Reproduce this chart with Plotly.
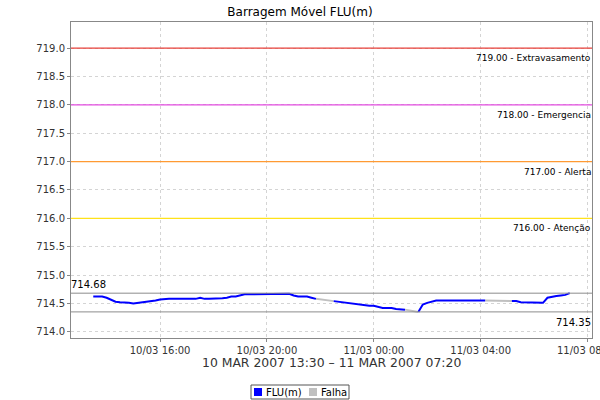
import pandas as pd
import plotly.graph_objects as go

# ---- data ----
start_time = "2007-03-10 13:30"
step_minutes = 10
flu_values = [
    714.62, 714.62, 714.62, 714.60, 714.57, 714.53, 714.52, 714.52, 714.51, 714.50,  # 13:30-15:00
    714.51, 714.52, 714.52, 714.53, 714.55, 714.57, 714.58, 714.58, 714.58, 714.58,  # 15:10-16:40
    714.58, 714.58, 714.58, 714.58, 714.60, 714.58, 714.58, 714.58, 714.58, 714.59,  # 16:50-18:20
    714.60, 714.62, 714.62, 714.64, 714.66, 714.66, 714.66, 714.66, 714.66, 714.66,  # 18:30-20:00
    714.67, 714.67, 714.67, 714.67, 714.67, 714.64, 714.62, 714.62, 714.62, 714.60,  # 20:10-21:40
    714.58, None, None, None, 714.54, 714.53, 714.51, 714.50, 714.49, 714.48,        # 21:50-23:20
    714.47, 714.47, 714.46, 714.46, 714.44, 714.42, 714.42, 714.42, 714.40, 714.40,  # 23:30-01:00
    714.39, None, None, 714.35, 714.48, 714.51, 714.53, 714.55, 714.55, 714.55,      # 01:10-02:40
    714.55, 714.55, 714.55, 714.55, 714.55, 714.55, 714.55, 714.55, 714.55, None,    # 02:50-04:20
    None, None, None, None, 714.54, 714.54, 714.52, 714.52, 714.51, 714.51,          # 04:30-06:00
    714.51, 714.51, 714.60, 714.62, 714.63, 714.64, 714.65, 714.68,                  # 06:10-07:20
]
threshold_values = [719.0, 718.0, 717.0, 716.0]
threshold_labels = ["719.00 - Extravasamento", "718.00 - Emergencia", "717.00 - Alerta", "716.00 - Atenção"]
threshold_colors = ["#e8403a", "#e34ce0", "#ff9a33", "#ffe21a"]
max_value = 714.68
min_value = 714.35
title_text = "Barragem Móvel FLU(m)"
subtitle_text = "10 MAR 2007 13:30 – 11 MAR 2007 07:20"
series_names = ["FLU(m)", "Falha"]
series_colors = ["#0000ff", "#c0c0c0"]
last_tick = "2007-03-11 08:00"

times = pd.date_range(start_time, periods=len(flu_values), freq=f"{step_minutes}min")

# failure segments: connect last valid point before each gap to first valid after
fail_x, fail_y = [], []
i = 0
n = len(flu_values)
while i < n:
    if flu_values[i] is None:
        j = i
        while j < n and flu_values[j] is None:
            j += 1
        if i > 0 and j < n:
            fail_x += [times[i - 1], times[j], None]
            fail_y += [flu_values[i - 1], flu_values[j], None]
        i = j
    else:
        i += 1

# ---- layout geometry (pixels) ----
W, H = 600, 400
ML, MR, MT, MB = 71, 8, 22, 62
PW, PH = W - ML - MR, H - MT - MB


def px(x):  # pixel x -> paper x
    return (x - ML) / PW


def py(y):  # pixel y -> paper y
    return (H - MB - y) / PH


FONT = "DejaVu Sans"
fig = go.Figure()

fig.add_trace(go.Scatter(x=fail_x, y=fail_y, mode="lines",
                         line=dict(color=series_colors[1], width=2),
                         showlegend=False, hoverinfo="skip"))
fig.add_trace(go.Scatter(x=times, y=flu_values, mode="lines",
                         line=dict(color=series_colors[0], width=2),
                         connectgaps=False, showlegend=False))

for val, lab, col in zip(threshold_values, threshold_labels, threshold_colors):
    fig.add_shape(type="line", xref="paper", x0=0, x1=1, y0=val, y1=val,
                  line=dict(color=col, width=1.2))
    fig.add_annotation(xref="paper", x=1, y=val, xanchor="right", yanchor="top",
                       xshift=1, yshift=-3, text=lab, showarrow=False,
                       font=dict(family=FONT, size=9, color="#000"))

for val in (max_value, min_value):
    fig.add_shape(type="line", xref="paper", x0=0, x1=1, y0=val, y1=val,
                  line=dict(color="#8c8c8c", width=1))
fig.add_annotation(xref="paper", x=0, y=max_value, xanchor="left", yanchor="bottom",
                   xshift=-2, yshift=1, text=f"{max_value:.2f}", showarrow=False,
                   font=dict(family=FONT, size=10, color="#000"))
fig.add_annotation(xref="paper", x=1, y=min_value, xanchor="right", yanchor="top",
                   xshift=1, yshift=-3, text=f"{min_value:.2f}", showarrow=False,
                   font=dict(family=FONT, size=10, color="#000"))

fig.add_annotation(xref="paper", yref="paper", x=0.5, y=py(362), xanchor="center",
                   yanchor="middle", text=subtitle_text, showarrow=False,
                   font=dict(family=FONT, size=12.4, color="#333"))

# last tick label, clipped by the page edge like in the original
fig.add_annotation(xref="x", yref="paper", x=last_tick, y=py(350), xanchor="center",
                   yanchor="middle", text=pd.Timestamp(last_tick).strftime("%d/%m %H:%M"),
                   showarrow=False, font=dict(family=FONT, size=10, color="#333"))

# ---- manual legend (square swatches in a bordered box) ----
fig.add_shape(type="rect", xref="paper", yref="paper",
              x0=px(251), x1=px(349), y0=py(399), y1=py(385),
              line=dict(color="#555", width=1), fillcolor="white")
leg_sq_x = [254, 309]
for name, col, sx in zip(series_names, series_colors, leg_sq_x):
    fig.add_shape(type="rect", xref="paper", yref="paper",
                  x0=px(sx), x1=px(sx + 8), y0=py(396), y1=py(388),
                  line=dict(width=0), fillcolor=col)
    fig.add_annotation(xref="paper", yref="paper", x=px(sx + 10), y=py(392),
                       xanchor="left", yanchor="middle", text=name, showarrow=False,
                       font=dict(family=FONT, size=10, color="#000"))

fig.update_layout(
    width=W, height=H,
    margin=dict(l=ML, r=MR, t=MT, b=MB),
    paper_bgcolor="white", plot_bgcolor="white",
    showlegend=False,
    title=dict(text=title_text, x=0.5, xref="container", xanchor="center",
               y=1 - 12 / H, yanchor="middle",
               font=dict(family=FONT, size=12, color="#000")),
    font=dict(family=FONT, size=10, color="#333"),
    xaxis=dict(range=["2007-03-10 12:40", "2007-03-11 08:10"],
               tickformat="%d/%m %H:%M", dtick=4 * 3600 * 1000,
               tick0="2007-03-10 00:00",
               showgrid=True, gridcolor="#d4d4d4", griddash="3px,3px", gridwidth=1,
               showline=True, linecolor="#888", mirror=True, linewidth=1,
               ticks="outside", ticklen=3, tickcolor="#888",
               tickfont=dict(family=FONT, size=10, color="#333"), zeroline=False,
               automargin=False),
    yaxis=dict(range=[713.89, 719.46], dtick=0.5, tick0=714, tickformat=".1f",
               showgrid=True, gridcolor="#d4d4d4", griddash="3px,3px", gridwidth=1,
               showline=True, linecolor="#888", mirror=True, linewidth=1,
               ticks="outside", ticklen=3, tickcolor="#888",
               tickfont=dict(family=FONT, size=10, color="#333"), zeroline=False,
               automargin=False),
)

fig.write_html("out.html", config={"displayModeBar": False},
               post_script="document.body.style.margin='0';document.body.style.overflow='hidden';")
